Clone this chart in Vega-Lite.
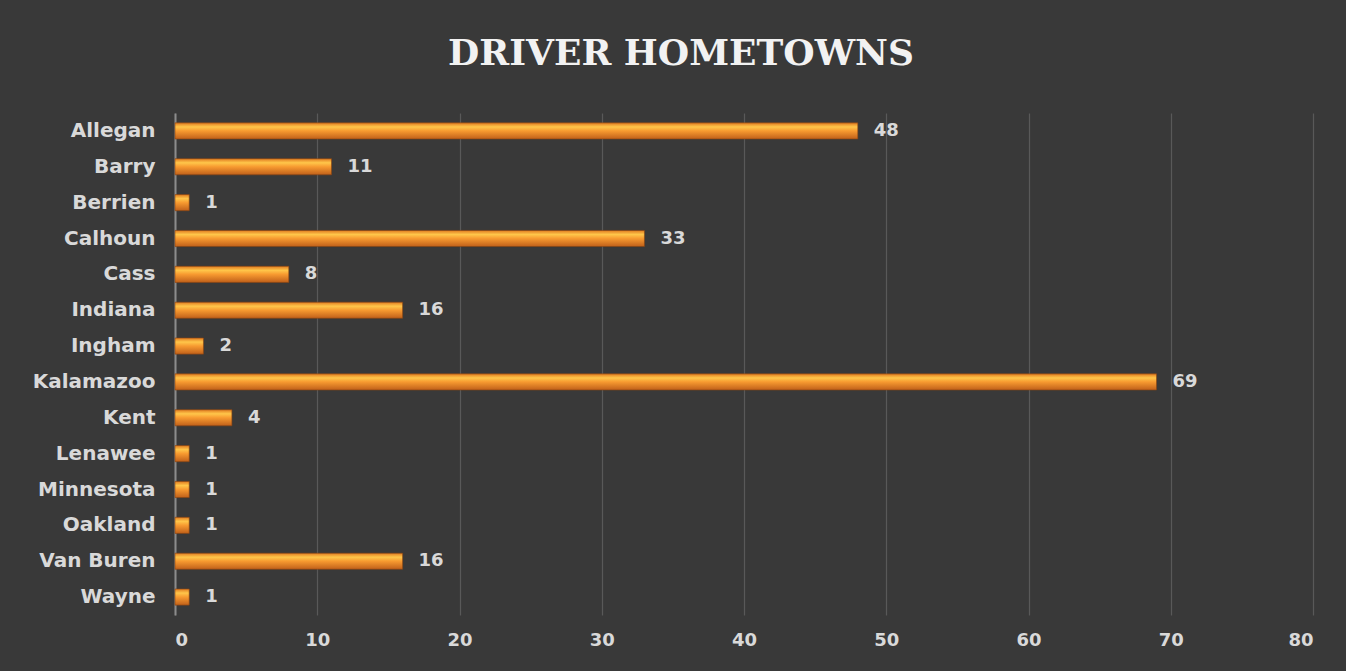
{
  "$schema": "https://vega.github.io/schema/vega-lite/v6.json",
  "width": 1138,
  "height": 502,
  "autosize": {"type": "none"},
  "padding": {"left": 175, "top": 113, "right": 33, "bottom": 56},
  "background": "#393939",
  "title": {
    "text": "DRIVER HOMETOWNS",
    "anchor": "middle",
    "frame": "group",
    "dx": -63,
    "offset": 40,
    "font": "DejaVu Serif",
    "fontWeight": "bold",
    "fontSize": 36,
    "color": "#f2f2f2"
  },
  "data": {
    "values": [
      {"county": "Allegan", "drivers": 48},
      {"county": "Barry\u2002", "drivers": 11},
      {"county": "Berrien", "drivers": 1},
      {"county": "Calhoun", "drivers": 33},
      {"county": "Cass", "drivers": 8},
      {"county": "Indiana", "drivers": 16},
      {"county": "Ingham\u2002", "drivers": 2},
      {"county": "Kalamazoo", "drivers": 69},
      {"county": "Kent", "drivers": 4},
      {"county": "Lenawee", "drivers": 1},
      {"county": "Minnesota", "drivers": 1},
      {"county": "Oakland", "drivers": 1},
      {"county": "Van Buren", "drivers": 16},
      {"county": "Wayne", "drivers": 1}
    ]
  },
  "encoding": {
    "y": {
      "field": "county",
      "type": "nominal",
      "sort": null,
      "scale": {"paddingInner": 0.55, "paddingOuter": 0.275},
      "axis": {
        "title": null,
        "ticks": false,
        "domain": true,
        "domainColor": "#8c8c8c",
        "domainWidth": 2,
        "labelFont": "DejaVu Sans",
        "labelFontWeight": "bold",
        "labelFontSize": 20,
        "labelColor": "#d9d9d9",
        "labelPadding": 20
      }
    },
    "x": {
      "field": "drivers",
      "type": "quantitative",
      "scale": {"domain": [0, 80], "nice": false},
      "axis": {
        "title": null,
        "values": [0, 10, 20, 30, 40, 50, 60, 70, 80],
        "domain": false,
        "ticks": false,
        "grid": true,
        "gridColor": "#595959",
        "gridWidth": 1.2,
        "labelFont": "DejaVu Sans",
        "labelFontWeight": "bold",
        "labelFontSize": 18,
        "labelColor": "#d9d9d9",
        "labelPadding": 16
      }
    }
  },
  "layer": [
    {
      "mark": {
        "type": "bar",
        "stroke": "#8a4510",
        "strokeWidth": 0.6,
        "color": {
          "gradient": "linear",
          "x1": 0, "y1": 0, "x2": 0, "y2": 1,
          "stops": [
            {"offset": 0, "color": "#e07a20"},
            {"offset": 0.25, "color": "#ffc64a"},
            {"offset": 0.5, "color": "#f79a30"},
            {"offset": 1, "color": "#c0601a"}
          ]
        }
      }
    },
    {
      "mark": {
        "type": "text",
        "align": "left",
        "baseline": "middle",
        "dx": 16,
        "font": "DejaVu Sans",
        "fontWeight": "bold",
        "fontSize": 18,
        "color": "#d9d9d9"
      },
      "encoding": {"text": {"field": "drivers", "type": "quantitative"}}
    }
  ],
  "config": {"view": {"stroke": null}}
}
